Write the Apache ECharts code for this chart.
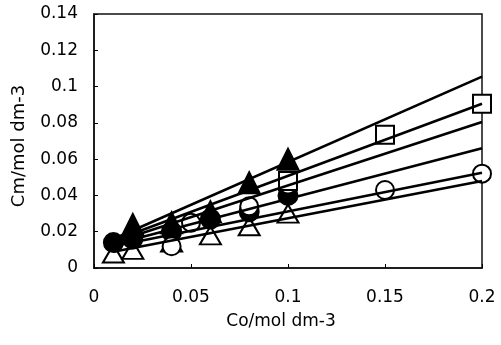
<!DOCTYPE html>
<html><head><meta charset="utf-8">
<script src="https://cdn.jsdelivr.net/npm/echarts@6/dist/echarts.min.js"></script>
<style>html,body{margin:0;padding:0;background:#fff}#c{width:501px;height:345px}</style>
</head><body><div id="c"></div>
<script>
// Data
const xTicks = [0, 0.05, 0.1, 0.15, 0.2];
const yTicks = [0, 0.02, 0.04, 0.06, 0.08, 0.1, 0.12, 0.14];

const filledTriX = [0.02, 0.04, 0.06, 0.08, 0.1];
const filledTriY = [0.024, 0.025, 0.031, 0.047, 0.060];

const squareX = [0.1, 0.15, 0.2];
const squareY = [0.048, 0.0735, 0.0905];

const openCircleX = [0.04, 0.05, 0.08, 0.1, 0.15, 0.2];
const openCircleY = [0.012, 0.025, 0.034, 0.046, 0.043, 0.052];

const filledCircleX = [0.01, 0.02, 0.04, 0.06, 0.08, 0.1];
const filledCircleY = [0.014, 0.016, 0.020, 0.027, 0.031, 0.040];

const openTriX = [0.01, 0.02, 0.04, 0.06, 0.08, 0.1];
const openTriY = [0.008, 0.010, 0.014, 0.018, 0.023, 0.030];

// fitted lines: start / end x and y
const lineX = [0.01, 0.2];
const lineStartY = [0.016, 0.015, 0.014, 0.013, 0.012, 0.009];
const lineEndY = [0.1055, 0.0905, 0.0805, 0.066, 0.0525, 0.048];

const zip = (xs, ys) => xs.map((x, i) => [x, ys[i]]);
const font = '"DejaVu Sans", "Liberation Sans", Arial, sans-serif';

const series = [];
function scatter(xs, ys, symbol, filled, size) {
  series.push({
    type: 'scatter', data: zip(xs, ys), symbol: symbol, symbolSize: size, z: 2,
    itemStyle: { color: filled ? '#000' : '#fff', borderColor: '#000', borderWidth: 2, opacity: 1 },
    emphasis: { disabled: true }, animation: false
  });
}
scatter(openTriX, openTriY, 'triangle', false, [21, 18]);
scatter(filledCircleX, filledCircleY, 'circle', true, 19);
scatter(openCircleX, openCircleY, 'circle', false, 18);
scatter(squareX, squareY, 'rect', false, 18);
scatter(filledTriX, filledTriY, 'triangle', true, [21, 21]);

lineStartY.forEach((s, i) => {
  series.push({
    type: 'line', data: [[lineX[0], s], [lineX[1], lineEndY[i]]], symbol: 'none', z: 3,
    lineStyle: { color: '#000', width: 2.6 }, animation: false, silent: true
  });
});

const chart = echarts.init(document.getElementById('c'), null, { renderer: 'canvas' });
chart.setOption({
  backgroundColor: '#fff',
  animation: false,
  grid: { left: 94, right: 19, top: 14, bottom: 77, show: true, borderColor: '#111', borderWidth: 1.5 },
  xAxis: {
    type: 'value', min: xTicks[0], max: xTicks[xTicks.length - 1], interval: 0.05,
    name: 'Co/mol dm-3', nameLocation: 'middle', nameGap: 45,
    nameTextStyle: { color: '#000', fontSize: 17, fontFamily: font, padding: [0, 14, 0, 0] },
    axisLine: { lineStyle: { color: '#111', width: 1.5 } },
    axisTick: { inside: true, length: 4, lineStyle: { color: '#000' } },
    axisLabel: { color: '#000', fontSize: 17, fontFamily: font, margin: 21 },
    splitLine: { show: false }
  },
  yAxis: {
    type: 'value', min: yTicks[0], max: yTicks[yTicks.length - 1], interval: 0.02,
    name: 'Cm/mol dm-3', nameLocation: 'middle', nameGap: 66,
    nameTextStyle: { color: '#000', fontSize: 18, fontFamily: font, padding: [0, 10, 0, 0] },
    axisLine: { lineStyle: { color: '#111', width: 1.5 } },
    axisTick: { inside: true, length: 4, lineStyle: { color: '#000' } },
    axisLabel: { color: '#000', fontSize: 17, fontFamily: font, margin: 16 },
    splitLine: { show: false }
  },
  series: series
});
</script></body></html>
